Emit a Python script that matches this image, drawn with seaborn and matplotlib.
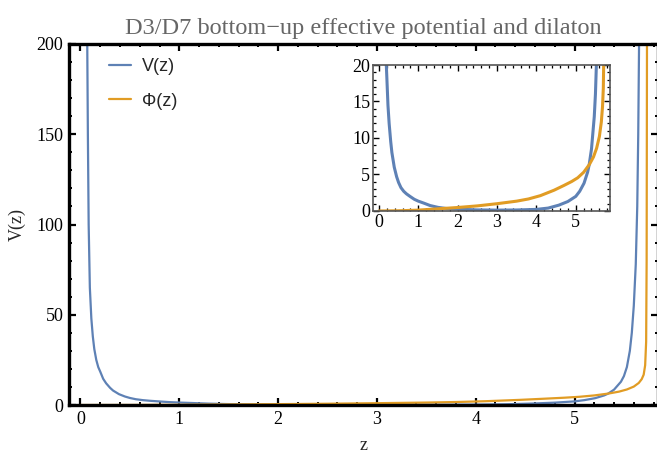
import numpy as np
import pandas as pd
import matplotlib
matplotlib.use("Agg")
import matplotlib.pyplot as plt
from matplotlib.ticker import MultipleLocator
import seaborn as sns

# values
z_V = [0.060, 0.065, 0.070, 0.075, 0.083, 0.095, 0.11, 0.125, 0.14, 0.16, 0.18, 0.20,
       0.23, 0.26, 0.30, 0.33, 0.39, 0.45, 0.50, 0.56, 0.63, 0.70, 0.79, 0.90, 1.00,
       1.13, 1.30, 1.50, 1.70, 2.00, 2.50, 3.00, 3.50, 4.00, 4.30, 4.57, 4.80, 5.00,
       5.10, 5.21, 5.30, 5.34, 5.40, 5.47, 5.50, 5.53, 5.56, 5.58, 5.60, 5.62, 5.635,
       5.645, 5.655, 5.665]
V = [300, 230, 190, 150, 100, 65, 48, 38, 31, 25, 21, 18.5,
     14.5, 12, 9.5, 8.0, 6.0, 4.7, 3.9, 3.2, 2.7, 2.35, 2.0, 1.6, 1.35,
     1.1, 0.75, 0.5, 0.35, 0.25, 0.15, 0.12, 0.14, 0.22, 0.4, 0.8, 1.3, 2.0,
     2.7, 3.8, 5.3, 6.3, 8.5, 12.9, 16, 21, 30, 40, 55, 78, 110,
     150, 210, 300]

z_Phi = [0.0, 0.5, 1.0, 1.5, 2.0, 2.5, 3.0, 3.5, 3.8, 4.1, 4.45, 4.7, 4.9, 5.05,
         5.2, 5.35, 5.45, 5.53, 5.6, 5.65, 5.68, 5.70, 5.715, 5.725, 5.73, 5.735]
Phi = [0.0, 0.03, 0.12, 0.3, 0.48, 0.7, 1.0, 1.35, 1.65, 2.1, 2.85, 3.5, 4.05, 4.55,
       5.3, 6.4, 7.4, 8.6, 10.2, 12.2, 14.3, 16.8, 22, 35, 80, 250]

df_V = pd.DataFrame({"z": z_V, "val": V})
df_P = pd.DataFrame({"z": z_Phi, "val": Phi})

blue = "#5E81B5"
orange = "#E19C24"

sns.set_style("ticks")
plt.rcParams["font.family"] = ["Liberation Serif", "DejaVu Serif"]

W, H = 657, 453
fig = plt.figure(figsize=(W / 100, H / 100), dpi=100)

def frac(left, top, right, bottom):
    return [left / W, 1 - bottom / H, (right - left) / W, (bottom - top) / H]

ax = fig.add_axes(frac(69, 44, 658, 405))
sns.lineplot(data=df_V, x="z", y="val", ax=ax, color=blue, lw=1.6, label="V(z)", sort=False)
sns.lineplot(data=df_P, x="z", y="val", ax=ax, color=orange, lw=1.6, label="Φ(z)", sort=False)
ax.set_xlim(-0.116, 5.845)
ax.set_ylim(0, 200)
ax.xaxis.set_major_locator(MultipleLocator(1))
ax.xaxis.set_minor_locator(MultipleLocator(0.2))
ax.yaxis.set_major_locator(MultipleLocator(50))
ax.yaxis.set_minor_locator(MultipleLocator(10))
ax.tick_params(which="both", direction="in", top=True, right=True, labelsize=13, colors="black")
ax.tick_params(which="major", length=5, width=1.6, pad=4)
ax.tick_params(which="minor", length=2.5, width=1.4)
for s in ax.spines.values():
    s.set_linewidth(2.4)
    s.set_color("black")
ax.set_xlabel("z", fontsize=13, labelpad=6.5)
ax.set_ylabel("V(z)", fontsize=13, labelpad=8)
ax.set_title("D3/D7 bottom\u2212up effective potential and dilaton",
             fontsize=17.5, color="#666666", pad=7)

leg = ax.legend(loc="upper left", bbox_to_anchor=(0.052, 0.985), frameon=False,
                prop={"family": ["Liberation Sans", "DejaVu Sans"], "size": 13},
                handlelength=1.25, handletextpad=0.6, labelspacing=0.95, borderpad=0)
for line in leg.get_lines():
    line.set_linewidth(1.6)

# inset zoom on the low region
axi = fig.add_axes(frac(373, 65, 610, 211))
sns.lineplot(data=df_V, x="z", y="val", ax=axi, color=blue, lw=2.2, sort=False, legend=False)
sns.lineplot(data=df_P, x="z", y="val", ax=axi, color=orange, lw=2.2, sort=False, legend=False)
axi.set_xlim(-0.15, 5.87)
axi.set_ylim(0, 20)
axi.xaxis.set_major_locator(MultipleLocator(1))
axi.xaxis.set_minor_locator(MultipleLocator(0.2))
axi.yaxis.set_major_locator(MultipleLocator(5))
axi.yaxis.set_minor_locator(MultipleLocator(1))
axi.tick_params(which="both", direction="in", top=True, right=True, labelsize=13, colors="black")
axi.tick_params(which="major", length=4, width=1.0, pad=2)
axi.tick_params(which="minor", length=2, width=0.9)
for s in axi.spines.values():
    s.set_linewidth(1.2)
    s.set_color("#555555")
axi.set_xlabel("")
axi.set_ylabel("")

fig.savefig("out.png", dpi=100)
